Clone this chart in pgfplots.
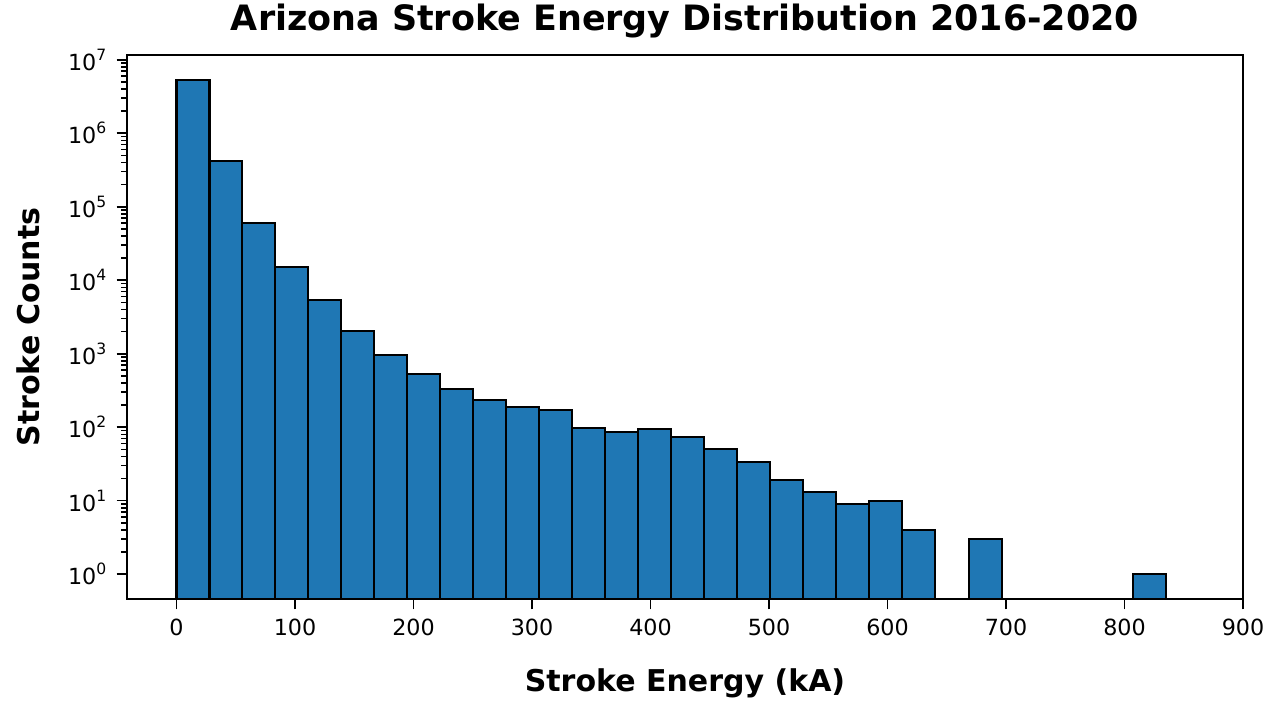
\documentclass[border=0pt]{standalone}
\usepackage{fontspec}
\setmainfont{DejaVu Sans}
\usepackage{pgfplots}
\pgfplotsset{compat=1.18}
\definecolor{barblue}{HTML}{1F77B4}

\begin{document}
\begin{tikzpicture}
\begin{axis}[
  name=ax,
  scale only axis,
  width=15.16cm, height=7.39cm,
  ymode=log, log origin=infty,
  xmin=-41.75, xmax=900,
  ymin=0.46, ymax=1.16e7,
  xtick={0,100,...,900},
  ytick={1,10,100,1000,10000,100000,1000000,10000000},
  yticklabels={10\textsuperscript{0},10\textsuperscript{1},10\textsuperscript{2},10\textsuperscript{3},10\textsuperscript{4},10\textsuperscript{5},10\textsuperscript{6},10\textsuperscript{7}},
  /pgf/number format/assume math mode=true,
  tick align=outside, xtick pos=bottom, ytick pos=left,
  tick style={black, line width=0.6pt},
  major tick length=4pt, minor tick length=2.2pt,
  axis line style={line width=0.6pt},
  ticklabel style={font=\fontsize{8.6}{10}\selectfont},
  title={Arizona Stroke Energy Distribution 2016-2020},
  title style={font=\fontsize{13.5}{15}\bfseries, yshift=-3pt},
  xlabel={Stroke Energy (kA)},
  ylabel={Stroke Counts},
  label style={font=\fontsize{11.6}{13}\bfseries},
  xlabel style={yshift=-6pt},
  ylabel style={yshift=4pt},
]
\addplot[ybar, bar width=27.8333, bar shift=0pt, fill=barblue, draw=black, line width=0.8pt] coordinates {
  (13.917,5.31e6) (41.750,4.24e5) (69.583,5.97e4) (97.417,1.53e4) (125.250,5400)
  (153.083,2040) (180.917,964) (208.750,526) (236.583,329) (264.417,235)
  (292.250,191) (320.083,172) (347.917,97) (375.750,85) (403.583,95)
  (431.417,74) (459.250,51) (487.083,34) (514.917,19) (542.750,13)
  (570.583,9) (598.417,10) (626.250,4) (682.917,3) (821.083,1)
};
\end{axis}
\pgfresetboundingbox
\path[use as bounding box] ([xshift=-1.7255cm, yshift=-1.3995cm]ax.south west) rectangle ([xshift=0.6114cm, yshift=0.7473cm]ax.north east);
\end{tikzpicture}
\end{document}
